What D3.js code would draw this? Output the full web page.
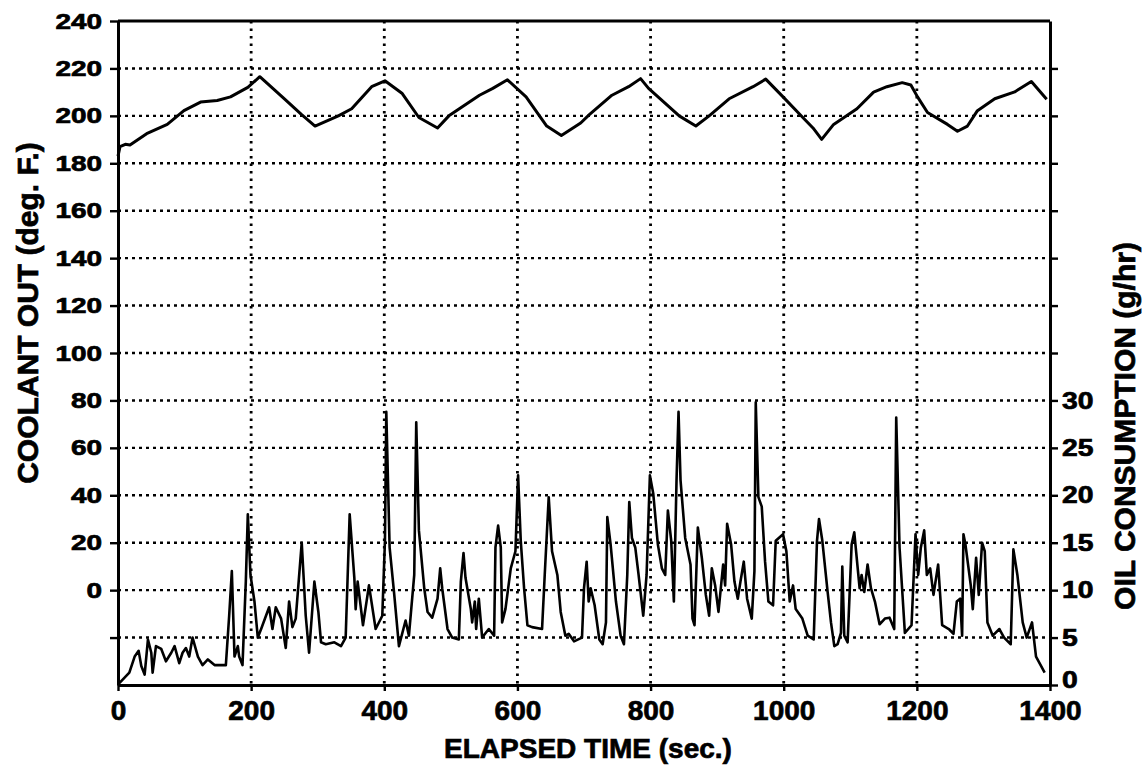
<!DOCTYPE html>
<html>
<head>
<meta charset="utf-8">
<script src="https://cdn.jsdelivr.net/npm/d3@7"></script>
<style>
  body { margin: 0; background: #fff; }
  svg { display: block; }
  text { font-family: "Liberation Sans", Arial, Helvetica, sans-serif; font-weight: bold; fill: #000; stroke: #000; stroke-width: 0.7px; }
</style>
</head>
<body>
<script>
const [W, H] = [1143, 768];
const BOX = { left: 118, right: 1050, top: 21, bottom: 685 };

// x axis (seconds)
const xTicks = [0, 200, 400, 600, 800, 1000, 1200, 1400];
const xGrid = [200, 400, 600, 800, 1000, 1200];
// left axis, coolant out (deg F)
const leftTicks = [-20, 0, 20, 40, 60, 80, 100, 120, 140, 160, 180, 200, 220, 240];
const leftGrid = [-20, 0, 20, 40, 60, 80, 100, 120, 140, 160, 180, 200, 220];
// right axis, oil consumption (g/hr)
const rightTicks = [0, 5, 10, 15, 20, 25, 30, 35, 40, 45, 50, 55, 60, 65];
const rightLabelMax = 30;

// coolant temperature trace
const coolantTime = [0, 3, 11, 18, 43, 74, 99, 124, 149, 169, 195, 213, 250, 275, 296, 331, 351, 381, 401, 427,
  452, 480, 497, 543, 563, 585, 613, 644, 666, 695, 708, 742, 767, 785, 797, 843, 868, 888, 918, 954,
  973, 999, 1024, 1044, 1057, 1075, 1110, 1135, 1155, 1178, 1191, 1201, 1216, 1246, 1261, 1276, 1291, 1317, 1347, 1372, 1395];
const coolantTemp = [183, 187, 188, 187.7, 192.5, 196.4, 202.2, 205.8, 206.5, 208, 212, 216.5, 207.2, 200.7, 195.7, 200, 203, 212.3, 214.8, 209.4,
  199.3, 194.9, 200, 208.7, 211.6, 215.2, 208, 195.7, 191.7, 197, 200.5, 208.7, 212.3, 215.7, 211.6, 200, 195.7, 200, 207.2, 212.3,
  215.5, 208, 200.7, 194.9, 190.1, 196.4, 203, 210, 212.3, 214, 213, 208, 201.4, 196.4, 193.5, 195.7, 202.2, 207.2, 210.1, 214.5, 207];

// oil consumption trace
const oilTime = [2, 17, 25, 31, 35, 40, 45, 50, 52, 57, 65, 72, 80, 85, 92, 97, 102, 107, 112, 120,
  127, 135, 145, 162, 167, 171, 175, 180, 182, 187, 192, 195, 199, 205, 210, 215, 227, 232, 237, 245,
  252, 257, 262, 267, 276, 282, 287, 295, 301, 305, 312, 325, 335, 342, 348, 355, 357, 360, 368, 377,
  387, 397, 401, 403, 408, 415, 422, 432, 437, 445, 448, 452, 460, 465, 472, 480, 484, 487, 495, 502,
  512, 515, 519, 522, 530, 532, 536, 538, 542, 547, 557, 565, 567, 571, 575, 577, 582, 590, 597, 601,
  605, 610, 615, 622, 637, 641, 647, 652, 660, 665, 672, 677, 685, 697, 700, 704, 707, 710, 716, 723,
  728, 733, 735, 740, 748, 755, 760, 765, 768, 772, 777, 782, 789, 794, 799, 804, 811, 817, 822, 826,
  831, 835, 839, 842, 845, 852, 860, 863, 866, 871, 877, 883, 888, 892, 897, 902, 909, 912, 915, 921,
  926, 931, 935, 940, 945, 952, 956, 958, 962, 967, 972, 977, 984, 988, 999, 1004, 1009, 1014, 1018, 1028,
  1036, 1045, 1050, 1053, 1058, 1066, 1071, 1076, 1081, 1086, 1088, 1091, 1096, 1102, 1106, 1114, 1117, 1121, 1126, 1131,
  1137, 1144, 1152, 1159, 1166, 1169, 1174, 1182, 1192, 1198, 1202, 1206, 1211, 1215, 1220, 1225, 1232, 1238, 1248, 1255,
  1260, 1265, 1268, 1270, 1273, 1281, 1284, 1289, 1293, 1298, 1302, 1306, 1314, 1324, 1331, 1341, 1345, 1351, 1359, 1365,
  1373, 1379, 1392];
const oilRate = [0.2, 1.3, 3.0, 3.6, 2.0, 1.1, 4.8, 3.4, 1.3, 4.1, 3.8, 2.5, 3.4, 4.1, 2.3, 3.4, 3.9, 3.0, 5.0, 3.0,
  2.1, 2.7, 2.1, 2.1, 7.3, 12, 3.0, 4.1, 3.0, 2.1, 10.9, 18, 11.6, 8.8, 5.0, 5.9, 8.2, 5.9, 8.2, 7.0,
  3.9, 8.8, 6.1, 7.0, 15, 7.3, 3.4, 10.9, 7.7, 4.5, 4.3, 4.5, 4.1, 5.0, 18, 11.3, 8.0, 10.9, 6.3, 10.5,
  5.9, 7.3, 15.2, 28.8, 14.5, 9.5, 4.1, 6.8, 5.2, 11.6, 27.7, 16.3, 10.2, 7.7, 7.1, 9.1, 12.3, 10.2, 5.9, 5.0,
  4.8, 10.9, 13.9, 11.3, 8.0, 6.6, 8.8, 5.9, 9.1, 5.0, 5.9, 5.2, 14.5, 16.8, 14.5, 6.6, 8.0, 12.3, 14.1, 22.1,
  15.2, 10.2, 6.3, 6.1, 5.9, 11.6, 19.8, 14.1, 11.6, 7.7, 5.2, 5.4, 4.6, 5.0, 10.2, 13, 8.8, 10.2, 8.4, 4.8,
  4.3, 6.6, 17.7, 14.8, 8.8, 5.2, 4.3, 11.6, 19.3, 15.5, 14.5, 11.6, 7.3, 11.6, 22.1, 20.2, 14.8, 12.3, 11.6, 18.4,
  15.2, 8.8, 21.6, 28.8, 21.6, 15.5, 12.7, 7.0, 6.3, 16.6, 13.4, 9.5, 7.3, 12.3, 10.5, 7.7, 12.7, 10.5, 17, 14.8,
  10.9, 9.1, 10.9, 13, 9.1, 7.0, 12, 29.8, 19.8, 18.8, 13, 8.8, 8.4, 15.2, 15.9, 14.1, 8.8, 10.5, 8.0, 7.0,
  5.2, 4.8, 15.2, 17.5, 15.2, 9.8, 6.6, 4.1, 4.3, 5.5, 12.5, 5.2, 4.5, 14.8, 16.1, 10.2, 11.6, 9.8, 12.7, 10.2,
  8.8, 6.4, 7.0, 7.1, 5.9, 28.2, 14.5, 5.5, 6.3, 15.9, 11.6, 14.5, 16.3, 11.6, 12.3, 9.5, 12.7, 6.3, 5.9, 5.4,
  8.8, 9.1, 5.2, 15.9, 14.8, 10.5, 8.0, 13.4, 9.5, 15, 14.1, 6.6, 5.2, 5.9, 5.0, 4.3, 14.3, 11.6, 6.6, 5.0,
  6.6, 3.0, 1.3];

const svg = d3.select('body').append('svg').attr('width', W).attr('height', H);

const x = d3.scaleLinear().domain([0, 1400]).range([BOX.left, BOX.right]);
const yL = d3.scaleLinear().domain([-40, 240]).range([BOX.bottom, BOX.top]);
const yR = d3.scaleLinear().domain([0, 70]).range([BOX.bottom, BOX.top]);

// dotted grid
svg.append('g').selectAll('line')
    .data(leftGrid)
    .enter().append('line')
    .attr('x1', BOX.left).attr('x2', BOX.right)
    .attr('y1', d => yL(d)).attr('y2', d => yL(d))
    .attr('stroke', '#000').attr('stroke-width', 2.4)
    .attr('stroke-dasharray', '3,4');

svg.append('g').selectAll('line')
    .data(xGrid)
    .enter().append('line')
    .attr('x1', d => x(d)).attr('x2', d => x(d))
    .attr('y1', BOX.top).attr('y2', BOX.bottom)
    .attr('stroke', '#000').attr('stroke-width', 2.8)
    .attr('stroke-dasharray', '2.5,5');

// traces
const coolant = coolantTime.map((t, i) => [t, coolantTemp[i]]);
const oil = oilTime.map((t, i) => [t, oilRate[i]]);

svg.append('path')
    .datum(coolant)
    .attr('fill', 'none').attr('stroke', '#000').attr('stroke-width', 3)
    .attr('stroke-linejoin', 'round')
    .attr('d', d3.line().x(d => x(d[0])).y(d => yL(d[1])));

svg.append('path')
    .datum(oil)
    .attr('fill', 'none').attr('stroke', '#000').attr('stroke-width', 2.6)
    .attr('stroke-linejoin', 'round')
    .attr('d', d3.line().x(d => x(d[0])).y(d => yR(d[1])));

// axes
function styleAxis(g, size, sx, pad) {
    g.select('.domain').attr('stroke-width', 3);
    g.selectAll('.tick line').attr('stroke-width', 2.4);
    g.selectAll('text')
        .style('font-size', size + 'px')
        .attr('transform', `scale(${sx},1)`);
    if (pad !== undefined) g.selectAll('text').attr('x', pad / sx);
}

const leftAxis = svg.append('g')
    .attr('transform', `translate(${BOX.left},0)`)
    .call(d3.axisLeft(yL).tickValues(leftTicks).tickSize(8).tickSizeOuter(0)
        .tickFormat(d => d < 0 ? '' : d));
styleAxis(leftAxis, 22, 1.27, -16);

const rightAxis = svg.append('g')
    .attr('transform', `translate(${BOX.right},0)`)
    .call(d3.axisRight(yR).tickValues(rightTicks).tickSize(8).tickSizeOuter(0)
        .tickFormat(d => d > rightLabelMax ? '' : d));
styleAxis(rightAxis, 24, 1.18, 12);
rightAxis.selectAll('text').filter(d => d === 0).attr('dy', '0.12em');

const bottomAxis = svg.append('g')
    .attr('transform', `translate(0,${BOX.bottom})`)
    .call(d3.axisBottom(x).tickValues(xTicks).tickSize(6).tickPadding(9).tickSizeOuter(0)
        .tickFormat(d => String(d)));
styleAxis(bottomAxis, 28, 1);

// top border
svg.append('line')
    .attr('x1', BOX.left).attr('x2', BOX.right)
    .attr('y1', BOX.top).attr('y2', BOX.top)
    .attr('stroke', '#000').attr('stroke-width', 3);

// titles
svg.append('text')
    .attr('transform', 'translate(38,313) rotate(-90)')
    .style('text-anchor', 'middle')
    .style('font-size', '30px')
    .text('COOLANT OUT (deg. F.)');

svg.append('text')
    .attr('transform', 'translate(1135,426) rotate(-90)')
    .style('text-anchor', 'middle')
    .style('font-size', '30px')
    .text('OIL CONSUMPTION (g/hr)');

svg.append('text')
    .attr('x', 588).attr('y', 758)
    .style('text-anchor', 'middle')
    .style('font-size', '28px')
    .text('ELAPSED TIME (sec.)');
</script>
</body>
</html>
